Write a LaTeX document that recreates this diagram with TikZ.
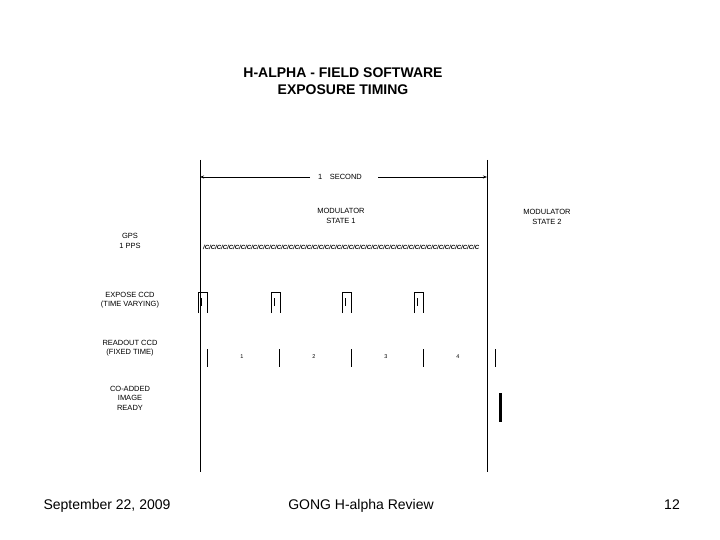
\documentclass[tikz,border=0pt]{standalone}
\usepackage{fontspec}
\setmainfont{Liberation Sans}
\usetikzlibrary{arrows.meta}
\tikzset{
  lbl/.style={inner sep=0pt, align=center, font=\fontsize{7.5}{9.6}\selectfont},
  num/.style={inner sep=0pt, font=\fontsize{5.5}{5.5}\selectfont},
  ln/.style={line width=0.9pt, black},
  box/.style={line width=0.9pt, black},
  foot/.style={inner sep=0pt, anchor=base, font=\fontsize{14}{16}\selectfont},
}
\newcommand\pulsepair{/C}
\newcommand\pulseten{\pulsepair\pulsepair\pulsepair\pulsepair\pulsepair\pulsepair\pulsepair\pulsepair\pulsepair\pulsepair}
\begin{document}
\begin{tikzpicture}[x=1pt,y=-1pt]
\useasboundingbox (0,0) rectangle (720,540);
% title
\node[inner sep=0pt, font=\fontsize{14}{16}\bfseries] (t1) at (343,73) {H-ALPHA - FIELD SOFTWARE};
\node[inner sep=0pt, font=\fontsize{14}{16}\bfseries] (t2) at (343,90) {EXPOSURE TIMING};
% main vertical lines
\coordinate (a1) at (200,160); \coordinate (a2) at (200,472);
\coordinate (b1) at (487,160); \coordinate (b2) at (487,472);
\draw[ln] (a1) -- (a2);
\draw[ln] (b1) -- (b2);
% one second
\node[lbl] (sec) at (340,177) {1\quad SECOND};
\coordinate (sL) at (200,177); \coordinate (sR) at (487,177);
\draw[line width=0.6pt, -{Stealth[length=4pt,width=3pt]}] (310,177) -- (sL);
\draw[line width=0.6pt, -{Stealth[length=4pt,width=3pt]}] (378,177) -- (sR);
% modulator labels
\node[lbl] (m1) at (341,216) {MODULATOR\\STATE 1};
\node[lbl] (m2) at (547,217) {MODULATOR\\STATE 2};
% left labels
\node[lbl] (gps) at (130,241) {GPS\\1 PPS};
\node[lbl] (exp) at (130,300) {EXPOSE CCD\\(TIME VARYING)};
\node[lbl] (rd) at (130,348) {READOUT CCD\\(FIXED TIME)};
\node[lbl] (co) at (130,398) {CO-ADDED\\IMAGE\\READY};
% pulse train
\node[inner sep=0pt, anchor=west, font=\fontsize{6}{6}\selectfont\bfseries\itshape] (pt) at (203,247) {\pulseten\pulseten\pulseten\pulseten\pulsepair\pulsepair\pulsepair\pulsepair\pulsepair\pulsepair};
% expose boxes
\foreach \i/\x in {1/198,2/271,3/342,4/414} {
  \draw[box] (\x,313) -- (\x,292) -- (\x+9,292) -- (\x+9,313);
  \draw[line width=0.8pt] (\x+3,298) -- (\x+3,306);
}
% readout lines
\foreach \x in {207,279,351,423,495} {
  \draw[line width=0.9pt] (\x,349) -- (\x,367);
}
\foreach \n/\x in {1/242,2/314,3/386,4/458} {
  \node[num] (r\n) at (\x,357) {\n};
}
% co-added
\draw[line width=3pt] (500,393) -- (500,422);
% footer
\node[foot] (f1) at (107,509) {September 22, 2009};
\node[foot] (f2) at (361,509) {GONG H-alpha Review};
\node[foot] (f3) at (672,509) {12};
\end{tikzpicture}
\end{document}
